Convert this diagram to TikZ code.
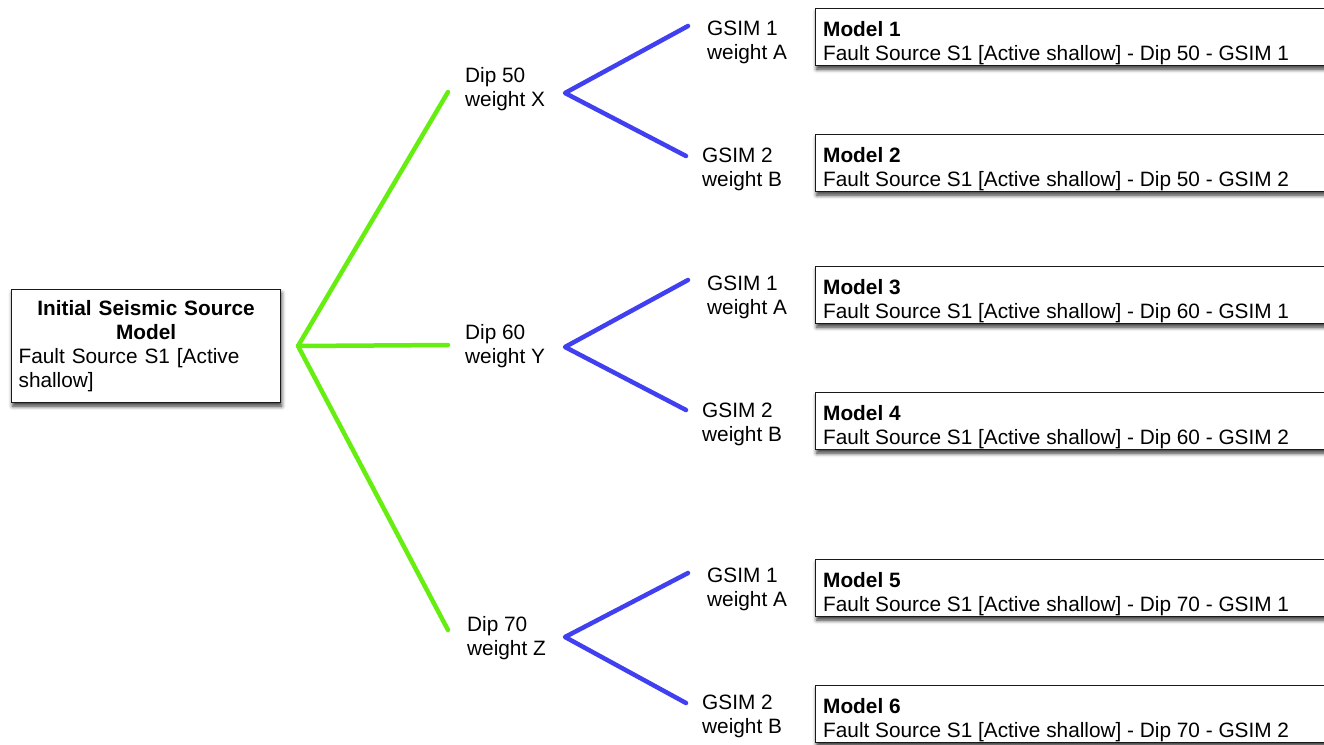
\documentclass[tikz,border=0pt]{standalone}
\usepackage{fontspec}
\setmainfont{Liberation Sans}
\usetikzlibrary{calc,shadows.blur}
\definecolor{branchgreen}{RGB}{102,238,17}
\definecolor{branchblue}{RGB}{64,64,240}
\begin{document}
\begin{tikzpicture}[x=1pt,y=-1pt,
  every node/.style={font=\fontsize{20.8}{24}\selectfont, inner sep=0pt},
  lbl/.style={anchor=west, align=left},
  box/.style={draw=black!90, line width=1.2pt, fill=white,
    blur shadow={shadow xshift=1pt, shadow yshift=-3.5pt,
      shadow blur radius=4pt, shadow opacity=80}},
  modelbox/.style={box, anchor=north west, minimum width=540pt, minimum height=57pt},
  modeltext/.style={anchor=north west, align=left},
  greenbranch/.style={draw=branchgreen, line width=4.5pt, line cap=round, line join=round},
  bluebranch/.style={draw=branchblue, line width=4.5pt, line cap=round, line join=round}]
\useasboundingbox (0,0) rectangle (1324,744);
\clip (0,0) rectangle (1324,744);

% root of the logic tree
\node[box, anchor=north west, minimum width=269pt, minimum height=113pt,
      text width=255pt, align=left] (init) at (11,289)
  {{\centering\bfseries Initial Seismic Source\\Model\par}Fault Source S1 [Active\\shallow]};
\coordinate (root) at (298,346);

% first level: dip branches
\coordinate (d50) at (448,92);
\coordinate (d60) at (448,345);
\coordinate (d70) at (448,630);
\node[lbl] (dip50) at (465,89)  {Dip 50\\weight X};
\node[lbl] (dip60) at (465,346) {Dip 60\\weight Y};
\node[lbl] (dip70) at (467,638) {Dip 70\\weight Z};
\draw[greenbranch] (d50) -- (root) -- (d70);
\draw[greenbranch] (root) -- (d60);

% second level: GSIM branches
\coordinate (h50) at (565,93);
\coordinate (h60) at (565,347);
\coordinate (h70) at (565,637);
\coordinate (g50a) at (688,26);
\coordinate (g50b) at (686,156);
\coordinate (g60a) at (688,280);
\coordinate (g60b) at (686,410);
\coordinate (g70a) at (688,573);
\coordinate (g70b) at (686,703);
\draw[bluebranch] (g50a) -- (h50) -- (g50b);
\draw[bluebranch] (g60a) -- (h60) -- (g60b);
\draw[bluebranch] (g70a) -- (h70) -- (g70b);
\node[lbl] (gsim50a) at (707,42)  {GSIM 1\\weight A};
\node[lbl] (gsim50b) at (702,169) {GSIM 2\\weight B};
\node[lbl] (gsim60a) at (707,297) {GSIM 1\\weight A};
\node[lbl] (gsim60b) at (702,424) {GSIM 2\\weight B};
\node[lbl] (gsim70a) at (707,589) {GSIM 1\\weight A};
\node[lbl] (gsim70b) at (702,716) {GSIM 2\\weight B};

% resulting models
\foreach \n/\top/\dip/\g in {1/8/50/1, 2/134/50/2, 3/266/60/1, 4/392/60/2, 5/559/70/1, 6/685/70/2}{
  \node[modelbox] (m\n) at (815,\top) {};
  \node[modeltext] (m\n text) at ($(m\n.north west)+(8,13)$)
    {\textbf{Model \n}\\Fault Source S1 [Active shallow] - Dip \dip{} - GSIM \g};
}
\end{tikzpicture}
\end{document}
